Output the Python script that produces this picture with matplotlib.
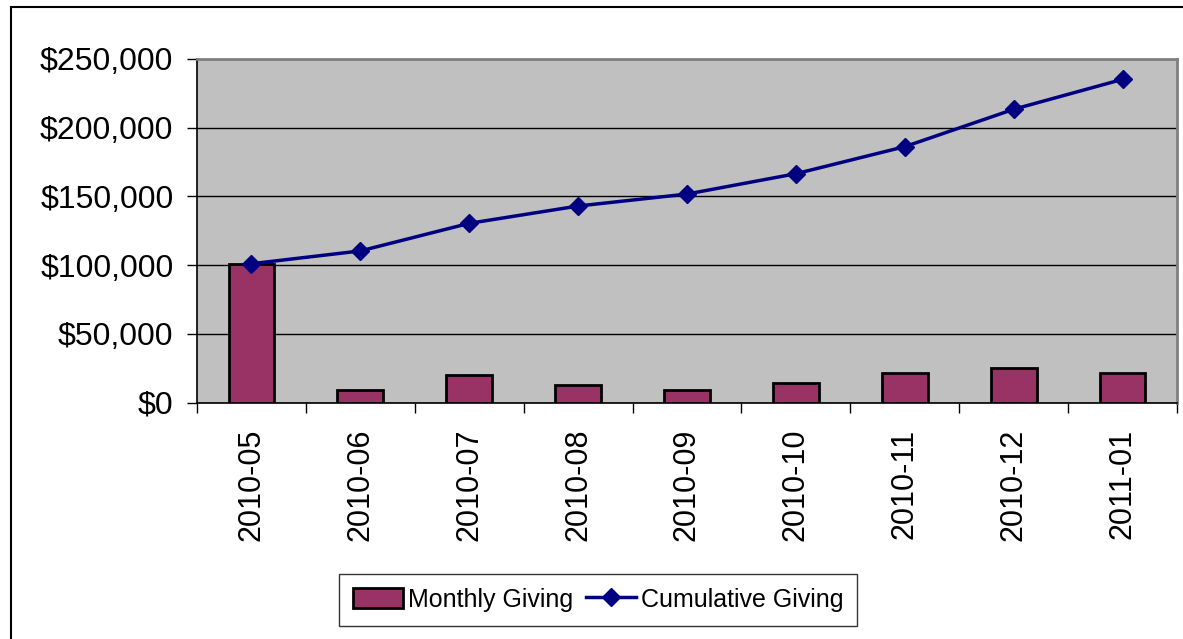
import matplotlib
matplotlib.use("Agg")
import matplotlib.pyplot as plt
from matplotlib.patches import Rectangle
from matplotlib.ticker import FuncFormatter

months = ["2010-05", "2010-06", "2010-07", "2010-08", "2010-09",
          "2010-10", "2010-11", "2010-12", "2011-01"]
monthly = [101000, 9100, 20000, 12700, 9100, 14400, 21700, 25300, 21700]
cumulative = [101000, 110300, 130400, 143000, 151700, 166500, 186200, 213400, 235200]

plt.rcParams['font.family'] = ['Liberation Sans', 'DejaVu Sans']

fig = plt.figure(figsize=(11.83, 6.39), dpi=100)
ax = fig.add_axes([197 / 1183, 1 - 402.5 / 639, (1177 - 197) / 1183, (402.5 - 59) / 639])

x = list(range(len(months)))
ax.set_facecolor('#C0C0C0')
bars = ax.bar(x, monthly, width=0.42, color='#993366', edgecolor='black', linewidth=2,
              label='Monthly Giving', zorder=3)
line, = ax.plot(x, cumulative, color='#000080', lw=2.5, marker='D', markersize=9,
                label='Cumulative Giving', zorder=4)

ax.set_xlim(-0.5, len(months) - 0.5)
ax.set_ylim(0, 250000)
ax.set_yticks(range(0, 250001, 50000))
ax.yaxis.set_major_formatter(FuncFormatter(lambda v, p: "${:,.0f}".format(v)))
ax.yaxis.grid(True, color='black', lw=1, zorder=1)
ax.set_axisbelow(True)

ax.set_xticks(x)
ax.set_xticklabels(months, rotation=90)
ax.set_xticks([i - 0.5 for i in range(len(months) + 1)], minor=True)
ax.tick_params(axis='x', which='major', length=0, pad=19, labelsize=22)
ax.tick_params(axis='x', which='minor', length=7, width=1, direction='out')
ax.tick_params(axis='y', length=7, width=1, pad=10, labelsize=23)

for side in ['top', 'right']:
    ax.spines[side].set_color('#808080')
    ax.spines[side].set_linewidth(2)
for side in ['left', 'bottom']:
    ax.spines[side].set_color('black')
    ax.spines[side].set_linewidth(1.2)

leg = fig.legend([bars, line], ['Monthly Giving', 'Cumulative Giving'],
                 loc='upper center', bbox_to_anchor=(598 / 1183, 1 - 574 / 639),
                 ncol=2, fontsize=18, frameon=True, fancybox=False,
                 handlelength=2.0, handleheight=0.85, handletextpad=0.2,
                 columnspacing=0.5, borderpad=0.55, borderaxespad=0)
leg.get_frame().set_edgecolor('black')
leg.get_frame().set_linewidth(1)

fig.patches.append(Rectangle((11 / 1183, -0.1), 2, 1.1 - 7 / 639, transform=fig.transFigure,
                             fill=False, edgecolor='black', lw=1.5))

fig.savefig('out.png', dpi=100, facecolor='white')
